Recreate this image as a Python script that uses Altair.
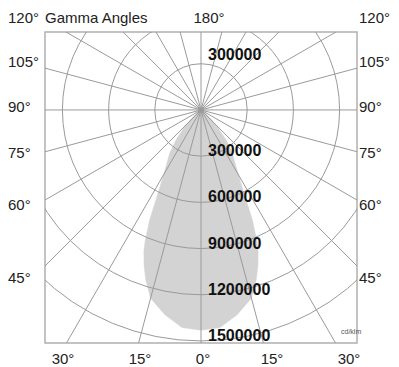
import math
import altair as alt
import pandas as pd

# Luminous intensity distribution (cd/klm) by gamma angle (symmetric about 0°)
gamma_deg = [0, 5, 10, 15, 18, 20, 22, 23, 25, 28, 31, 36, 40, 45, 50, 55, 60, 70, 90, 120, 150, 180]
intensity = [1430000, 1418000, 1350000, 1265000, 1160000, 1080000, 990000, 930000, 790000,
             570000, 453000, 344000, 250000, 140000, 60000, 20000, 5000, 0, 0, 0, 0, 0]

ring_values = [300000, 600000, 900000, 1200000, 1500000]
spoke_angles = list(range(0, 360, 15))

side_labels = ["120°", "105°", "90°", "75°", "60°", "45°"]
bottom_labels = ["30°", "15°", "0°", "15°", "30°"]
title_text = "Gamma Angles"
top_label = "180°"
unit_text = "cd/klm"

# ---- layout (pixels relative to plot area) ----
W, H = 312, 311
R_MAX_PX = 231
xs = alt.Scale(domain=[-1013000, 1013000], nice=False, zero=False)
ys = alt.Scale(domain=[-1513000, 506000], nice=False, zero=False)

# shape polygon: right side then mirrored left side
rows = []
n = len(gamma_deg)
for i in range(n):
    rows.append({"g": gamma_deg[i], "I": intensity[i], "side": 1, "ord": i})
for j in range(n):
    k = n - 1 - j
    rows.append({"g": gamma_deg[k], "I": intensity[k], "side": -1, "ord": n + j})
shape_df = pd.DataFrame(rows)

shape = alt.Chart(shape_df).transform_calculate(
    px="datum.side * datum.I * sin(datum.g * PI / 180)",
    py="-datum.I * cos(datum.g * PI / 180)",
).mark_line(fill="#d3d3d3", stroke="#d3d3d3", strokeWidth=0.5, clip=True).encode(
    x=alt.X("px:Q", scale=xs, axis=None),
    y=alt.Y("py:Q", scale=ys, axis=None),
    order=alt.Order("ord:Q"),
)

ring_df = pd.DataFrame({"r": ring_values})
rings = alt.Chart(ring_df).transform_calculate(cx="0", cy="0").mark_arc(
    theta=0, theta2=2 * math.pi, fillOpacity=0, stroke="#9a9a9a", strokeWidth=1, clip=True
).encode(
    x=alt.X("cx:Q", scale=xs, axis=None),
    y=alt.Y("cy:Q", scale=ys, axis=None),
    radius=alt.Radius("r:Q", stack=False,
                      scale=alt.Scale(type="linear", domain=[0, 1500000], range=[0, R_MAX_PX], zero=True)),
)

spoke_df = pd.DataFrame({"a": spoke_angles})
spokes = alt.Chart(spoke_df).transform_calculate(
    x0="0", y0="0",
    x1="3000000 * sin(datum.a * PI / 180)",
    y1="-3000000 * cos(datum.a * PI / 180)",
).mark_rule(stroke="#9a9a9a", strokeWidth=1, clip=True).encode(
    x=alt.X("x0:Q", scale=xs, axis=None),
    y=alt.Y("y0:Q", scale=ys, axis=None),
    x2="x1:Q",
    y2="y1:Q",
)

# intensity labels (lower half) + one in upper half
lab_df = pd.DataFrame({"v": ring_values, "t": [str(v) for v in ring_values]})
int_labels = alt.Chart(lab_df).transform_calculate(cx="0", py="-datum.v").mark_text(
    align="left", baseline="alphabetic", dx=7, font="Liberation Sans", fontSize=16,
    fontWeight="bold", color="#111"
).encode(
    x=alt.X("cx:Q", scale=xs, axis=None),
    y=alt.Y("py:Q", scale=ys, axis=None),
    text="t:N",
)
up_df = pd.DataFrame({"v": ring_values[:1], "t": [str(ring_values[0])]})
up_label = alt.Chart(up_df).transform_calculate(cx="0", py="datum.v").mark_text(
    align="left", baseline="alphabetic", dx=7, dy=-4, font="Liberation Sans", fontSize=16,
    fontWeight="bold", color="#111"
).encode(
    x=alt.X("cx:Q", scale=xs, axis=None),
    y=alt.Y("py:Q", scale=ys, axis=None),
    text="t:N",
)

# angle labels (pixel positions relative to plot area)
side_y = [-9, 35, 80, 126, 178, 251]
left_df = pd.DataFrame({"t": side_labels, "px": [-37] * 6, "py": side_y})
right_df = pd.DataFrame({"t": side_labels, "px": [314] * 6, "py": side_y})
bot_df = pd.DataFrame({"t": bottom_labels, "px": [18, 95, 158, 227, 304], "py": [332] * 5})
top_df = pd.DataFrame({"t": [title_text], "px": [0], "py": [-9]})
top2_df = pd.DataFrame({"t": [top_label], "px": [164], "py": [-9]})

def txt(df, align, size=15, color="#222"):
    return alt.Chart(df).mark_text(
        align=align, baseline="alphabetic", font="Liberation Sans", fontSize=size, color=color
    ).encode(
        x=alt.X("px:Q", scale=None),
        y=alt.Y("py:Q", scale=None),
        text="t:N",
    )

unit_df = pd.DataFrame({"t": [unit_text], "px": [296], "py": [302]})

chart = alt.layer(
    shape, rings, spokes, int_labels, up_label,
    txt(left_df, "left"), txt(right_df, "left"), txt(bot_df, "center"),
    txt(top_df, "left"), txt(top2_df, "center"),
    txt(unit_df, "left", size=7, color="#555"),
).properties(
    width=W, height=H, autosize="none",
    padding={"left": 37, "top": 24, "right": 34, "bottom": 24},
).configure_view(stroke="#b0b0b0", strokeWidth=1.5)

chart.save("out.html", embed_options={"renderer": "svg", "actions": False})
